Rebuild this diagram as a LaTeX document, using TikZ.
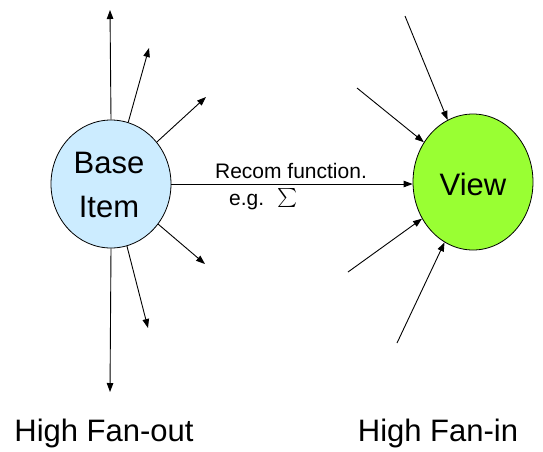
\documentclass[tikz,border=0pt]{standalone}
\usepackage{graphicx}
\usepackage{fontspec}
\setmainfont{Liberation Sans}
\usetikzlibrary{arrows.meta,shapes.geometric}
\definecolor{baseblue}{RGB}{204,236,255}
\definecolor{viewgreen}{RGB}{153,255,51}
\begin{document}
\begin{tikzpicture}[x=1pt,y=-1pt,
  bubble/.style={ellipse, draw=black, line width=0.8pt, inner sep=0pt},
  arr/.style={line width=0.9pt, -{Triangle[length=9pt,width=6.5pt]}},
  big/.style={font=\fontsize{31}{44}\selectfont, align=center},
  small/.style={font=\fontsize{21}{24}\selectfont, inner sep=0pt}]
\useasboundingbox (0,0) rectangle (543,451);
\node[bubble, minimum width=120pt, minimum height=128pt, fill=baseblue] (base) at (111,184) {};
\node[big] (basetxt) at (109,185) {Base\\Item};
\node[bubble, minimum width=120pt, minimum height=136pt, fill=viewgreen] (view) at (473,182) {};
\node[big] (viewtxt) at (473,184) {View};
% fan-out
\coordinate (o1) at (110,10);
\coordinate (o2) at (149,48);
\coordinate (o3) at (206,97);
\coordinate (o4) at (205,264);
\coordinate (o5) at (148,328);
\coordinate (o6) at (110,392);
\draw[arr] (base.north) -- (o1);
\draw[arr] (base) -- (o2);
\draw[arr] (base) -- (o3);
\draw[arr] (base) -- (o4);
\draw[arr] (base) -- (o5);
\draw[arr] (base.south) -- (o6);
% fan-in
\coordinate (i1) at (405,16);
\coordinate (i2) at (357,88);
\coordinate (i3) at (348,272);
\coordinate (i4) at (397,343);
\draw[arr] (i1) -- (view);
\draw[arr] (i2) -- (view);
\draw[arr] (i3) -- (view);
\draw[arr] (i4) -- (view);
% main connector
\draw[arr] (base.east |- 0,184) -- (view.west |- 0,184);
\node[small] (recom) at (291,171) {Recom function.};
\node[small, anchor=west] (eg) at (229,202) {e.g.};
\node[inner sep=0pt] (sig) at (288,203) {\scalebox{1.9}{\smash{$\textstyle\sum$}}};
% bottom labels
\node[big] (fo) at (104,433) {High Fan-out};
\node[big] (fi) at (438,433) {High Fan-in};
\end{tikzpicture}
\end{document}
